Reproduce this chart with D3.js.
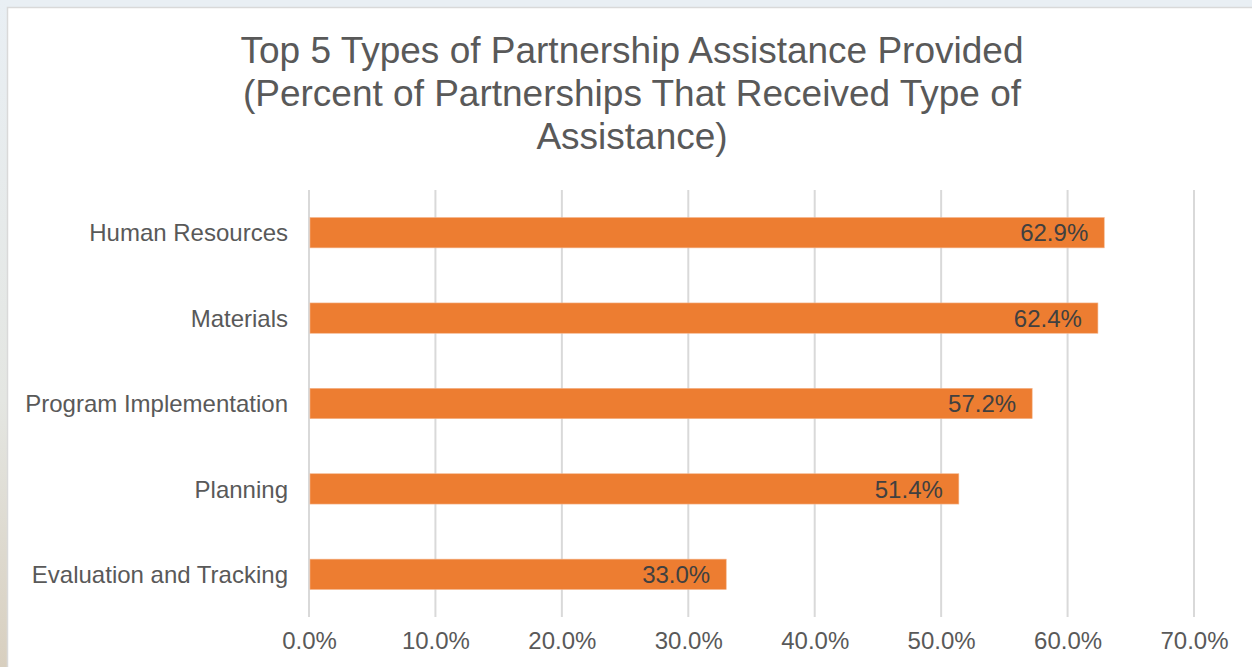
<!DOCTYPE html>
<html><head><meta charset="utf-8">
<script src="https://cdn.jsdelivr.net/npm/d3@7"></script>
<style>
html,body{margin:0;padding:0;background:#e9eff4;overflow:hidden;}
svg{display:block;font-family:"Liberation Sans",Arial,sans-serif;}
</style></head><body>
<svg id="c" width="1252" height="667"></svg>
<script>
const categories = ["Human Resources","Materials","Program Implementation","Planning","Evaluation and Tracking"];
const values = [62.9, 62.4, 57.2, 51.4, 33.0];
const ticks = [0,10,20,30,40,50,60,70];
const titleLines = ["Top 5 Types of Partnership Assistance Provided","(Percent of Partnerships That Received Type of","Assistance)"];

const svg = d3.select("#c");
const defs = svg.append("defs");
const g1 = defs.append("linearGradient").attr("id","lg").attr("x1",0).attr("y1",0).attr("x2",0).attr("y2",1);
g1.append("stop").attr("offset","0").attr("stop-color","#e9eff4");
g1.append("stop").attr("offset","0.6").attr("stop-color","#e4e6e2");
g1.append("stop").attr("offset","1").attr("stop-color","#d8cfbf");
svg.append("rect").attr("x",0).attr("y",0).attr("width",1252).attr("height",667).attr("fill","#e9eff4");
svg.append("rect").attr("x",0).attr("y",0).attr("width",8).attr("height",667).attr("fill","url(#lg)");
svg.append("rect").attr("x",7.5).attr("y",7.5).attr("width",1250).attr("height",670).attr("fill","#ffffff").attr("stroke","#d9d9d9").attr("stroke-width",1.5);

const x = d3.scaleLinear().domain([0,70]).range([309,1194]);
const y = d3.scaleBand().domain(categories).range([190,617]).paddingInner(0.645).paddingOuter(0.3225);

svg.append("g").selectAll("line").data(ticks).join("line")
  .attr("x1",d=>x(d)).attr("x2",d=>x(d)).attr("y1",190).attr("y2",617)
  .attr("stroke","#d9d9d9").attr("stroke-width",2);

svg.append("g").selectAll("rect").data(values).join("rect")
  .attr("x",x(0)+1).attr("y",(d,i)=>y(categories[i]))
  .attr("width",d=>x(d)-x(0)-1).attr("height",y.bandwidth())
  .attr("fill","#ed7d31").attr("stroke","#f4b48a").attr("stroke-width",0.6);

svg.append("g").selectAll("text").data(values).join("text")
  .attr("x",d=>x(d)-16).attr("y",(d,i)=>y(categories[i])+y.bandwidth()/2)
  .attr("dy","0.36em").attr("text-anchor","end")
  .attr("font-size",24).attr("fill","#404040")
  .text(d=>d.toFixed(1)+"%");

svg.append("g").selectAll("text").data(categories).join("text")
  .attr("x",288).attr("y",d=>y(d)+y.bandwidth()/2)
  .attr("dy","0.36em").attr("text-anchor","end")
  .attr("font-size",24).attr("fill","#595959")
  .text(d=>d);

const xa = svg.append("g").attr("transform","translate(0,617)")
  .call(d3.axisBottom(x).tickValues(ticks).tickSize(0).tickPadding(15).tickFormat(d=>d.toFixed(1)+"%"));
xa.select(".domain").remove();
xa.selectAll("text").attr("font-size",24).attr("fill","#595959").attr("font-family","Liberation Sans, Arial, sans-serif");

svg.append("g").selectAll("text").data(titleLines).join("text")
  .attr("x",632).attr("y",(d,i)=>63+i*43)
  .attr("text-anchor","middle").attr("font-size",37).attr("fill","#595959")
  .text(d=>d);
</script>
</body></html>
